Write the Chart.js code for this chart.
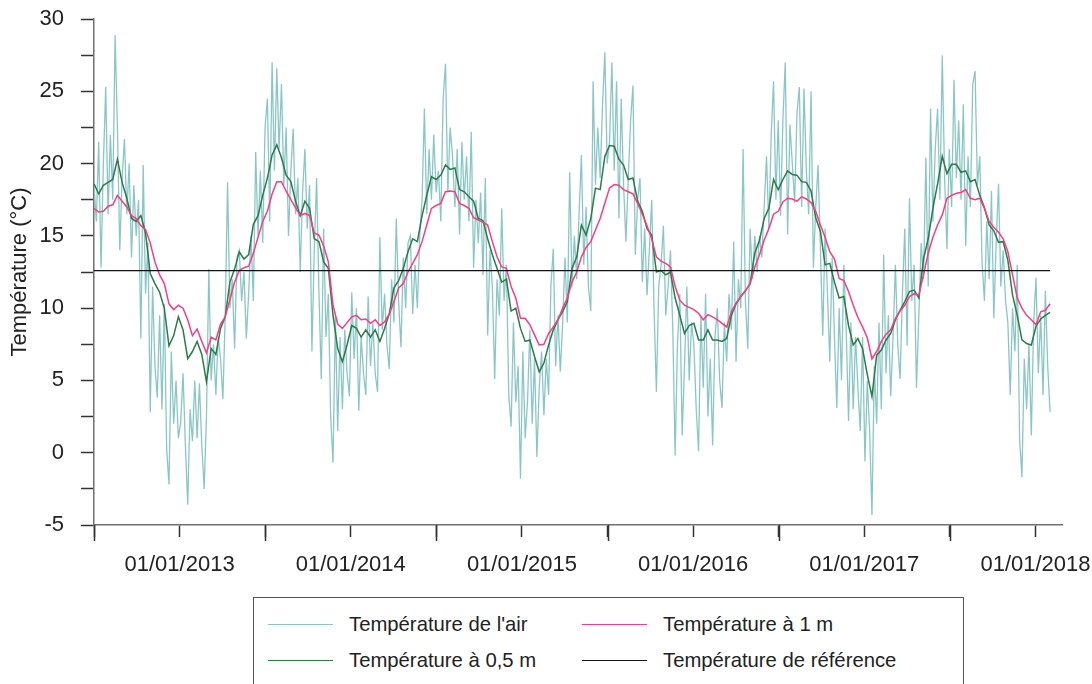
<!DOCTYPE html>
<html lang="fr">
<head>
<meta charset="utf-8">
<title>Températures</title>
<script src="https://cdn.jsdelivr.net/npm/chart.js@4.4.1/dist/chart.umd.min.js"></script>
<style>
  html, body { margin: 0; padding: 0; background: #fff; overflow: hidden; }
  #wrap { position: relative; width: 1092px; height: 684px; font-family: "Liberation Sans", Arial, sans-serif; }
  #chart { position: absolute; left: 0; top: 0; }
  #legend {
    position: absolute; left: 253px; top: 597px; width: 711px; height: 100px;
    border: 1px solid #555; box-sizing: border-box;
    display: grid; grid-template-columns: 314px 1fr; grid-auto-rows: 36px;
    padding: 8px 0 0 14px; color: #222; font-size: 20.3px;
  }
  .item { display: flex; align-items: center; white-space: nowrap; }
  .swatch { width: 65px; height: 0; border-top: 1.5px solid; margin-right: 16px; }
</style>
</head>
<body>
<div id="wrap">
  <canvas id="chart" width="1092" height="590"></canvas>
  <div id="legend"></div>
</div>
<script>
// Series start on 1 July 2012 (decimal year), air sampled every 5 days, soil every 10 days.
const START_YEAR = 2012.5;
const AIR_STEP = 5 / 365.25;
const SOIL_STEP = 10 / 365.25;
const REFERENCE_TEMP = 12.6;

const LABELS = {
  air: "Température de l'air",
  depth1: "Température à 1 m",
  depth05: "Température à 0,5 m",
  reference: "Température de référence"
};

const X_TICKS = [2012.5, 2013, 2013.5, 2014, 2014.5, 2015, 2015.5, 2016, 2016.5, 2017, 2017.5, 2018];

const airTemp = [
  // 2012-07 .. 2013-06
  18.5, 16.0, 21.5, 12.8, 20.0, 25.3, 16.5, 22.0, 17.5, 28.9,
  22.5, 14.0, 19.0, 21.7, 16.5, 20.0, 13.5, 18.5, 15.0, 17.5,
  7.9, 19.9, 11.0, 14.5, 2.8, 11.5, 6.0, 3.8, 9.5, 3.0,
  10.3, 0.3, -2.2, 7.0, 2.0, 5.0, 1.0, 2.1, 5.5, 0.5,
  -3.6, 3.0, 0.8, 5.0, 1.0, 4.8, 0.5, -2.5, 2.5, 12.7,
  5.0, 7.5, 4.0, 8.0, 6.5, 3.7, 9.5, 18.7, 10.0, 12.0,
  7.2, 13.5, 14.0, 10.5, 12.5, 7.9, 11.0, 15.0, 10.5, 20.8,
  15.0, 19.5, 14.5, 22.5,
  // 2013-07 .. 2014-06
  24.5, 16.0, 27.0, 19.5, 26.6, 21.0, 25.5, 18.5, 22.5, 15.0,
  19.5, 22.4, 16.5, 19.0, 12.5, 18.0, 21.0, 15.5, 18.5, 7.0,
  14.0, 19.0, 11.0, 5.1, 15.5, 8.0, 11.0, 2.5, -0.7, 9.5,
  1.5, 8.0, 3.0, 8.5, 5.5, 3.9, 11.1, 6.5, 10.0, 2.9,
  8.0, 5.5, 4.0, 10.8, 6.0, 9.0, 5.5, 4.2, 14.9, 8.5,
  11.0, 7.5, 5.8, 12.0, 9.0, 16.2, 10.5, 7.3, 13.5, 10.0,
  14.5, 15.0, 9.6, 13.0, 10.0, 15.0, 17.5, 23.8, 16.5, 21.0,
  17.5, 22.0, 18.0,
  // 2014-07 .. 2015-06
  19.5, 16.0, 24.5, 26.9, 18.0, 22.5, 20.5, 17.0, 21.0, 15.1,
  21.5, 17.5, 20.5, 16.0, 22.2, 12.8, 17.5, 14.5, 18.0, 12.3,
  19.0, 8.1, 14.0, 11.5, 5.1, 12.0, 9.5, 16.9, 10.5, 13.0,
  4.0, 1.8, 9.0, 3.5, 6.0, -1.8, 7.0, 1.0, 3.5, 8.5,
  2.0, 6.5, -0.3, 4.5, 7.0, 2.6, 6.5, 4.0, 11.6, 14.1,
  6.0, 9.5, 5.6, 9.0, 13.5, 9.0, 19.4, 11.5, 15.0, 12.0,
  16.5, 20.6, 13.0, 17.0, 11.5, 9.8, 25.7, 18.5, 22.5, 19.0,
  24.0, 27.7, 20.0,
  // 2015-07 .. 2016-06
  21.5, 27.0, 19.5, 25.7, 16.2, 24.5, 18.5, 14.6, 19.0, 23.0,
  25.4, 13.7, 17.5, 19.0, 11.8, 15.5, 10.9, 14.0, 17.5, 10.0,
  4.2, 11.5, 13.0, 15.7, 9.5, 11.5, 14.0, 8.5, -0.2, 7.5,
  11.0, 1.2, 6.0, 11.5, 5.0, 9.0, 7.5, 3.0, 0.1, 9.5,
  4.5, 11.0, 2.5, 6.5, 0.5, 8.0, 10.0, 5.0, 3.1, 9.0,
  6.3, 11.0, 8.5, 14.6, 6.3, 12.0, 10.0, 21.0, 10.5, 7.2,
  15.5, 12.0, 15.0, 12.5, 15.0, 13.5, 17.0, 20.5, 15.5, 22.0,
  25.7, 17.5, 23.0,
  // 2016-07 .. 2017-06
  16.4, 23.1, 27.0, 15.1, 22.7, 20.0, 17.3, 23.5, 25.3, 17.0,
  25.2, 19.5, 16.5, 25.0, 12.8, 17.0, 19.9, 14.0, 8.1, 15.5,
  11.0, 6.3, 13.5, 8.0, 3.1, 10.0, 5.0, 13.0, 8.5, 2.2,
  9.0, 3.0, 8.0, 4.5, 1.5, 8.0, -0.6, 5.0, 1.5, -4.3,
  6.0, 2.0, 9.0, 3.0, 13.7, 5.5, 9.5, 3.9, 8.0, 13.0,
  7.5, 5.1, 11.0, 15.5, 7.4, 17.6, 10.5, 13.0, 4.5, 9.5,
  14.5, 12.0, 20.4, 11.5, 23.8, 16.0, 21.0, 23.8, 17.5, 27.5,
  19.0, 14.1,
  // 2017-07 .. 2018-01
  21.0, 17.0, 25.8, 19.0, 23.0, 17.5, 24.1, 14.3, 20.5, 17.0,
  25.5, 26.4, 18.5, 20.5, 13.1, 10.5, 16.0, 12.0, 18.1, 9.3,
  14.5, 18.6, 11.5, 14.0, 10.5, 9.0, 4.0, 10.0, 7.0, 13.0,
  0.95, -1.7, 6.5, 3.0, 7.5, 1.2, 9.0, 12.1, 5.5, 9.5,
  4.0, 11.2, 6.0, 2.8
];

const temp05m = [
  18.6, 17.9, 18.5, 18.7, 18.9, 20.3, 18.7, 17.6, 16.2, 16.0,
  16.4, 15.2, 12.4, 11.7, 11.1, 10.0, 7.4, 8.1, 9.4, 8.5,
  6.5, 7.0, 7.7, 6.8, 4.9, 7.2, 6.8, 8.6, 9.4, 11.8,
  12.7, 13.9, 13.4, 13.7, 15.8, 16.4, 17.8,
  19.0, 20.6, 21.3, 20.4, 19.2, 18.75, 17.4, 16.4, 17.4, 16.9,
  14.8, 14.6, 13.2, 12.75, 9.5, 7.2, 6.3, 7.45, 8.8, 8.6,
  8.0, 8.5, 8.0, 8.5, 7.7, 8.6, 9.6, 11.4, 11.9, 12.75,
  13.9, 14.8, 14.6, 16.4, 17.8, 19.1, 18.9,
  19.2, 19.9, 19.6, 19.7, 18.2, 18.05, 17.7, 17.4, 16.2, 16.05,
  14.8, 13.7, 12.75, 11.8, 12.0, 9.8, 10.0, 8.6, 7.7, 7.8,
  6.65, 5.6, 6.2, 7.45, 8.5, 9.2, 9.75, 10.45, 12.75, 13.55,
  15.75, 15.05, 16.2, 18.3, 18.2, 20.5,
  21.25, 21.2, 20.3, 19.9, 18.9, 19.0, 17.4, 16.7, 15.5, 15.05,
  12.5, 12.6, 12.3, 12.5, 10.7, 9.5, 8.25, 8.8, 8.95, 7.8,
  7.8, 8.5, 7.8, 7.8, 7.7, 7.9, 9.5, 10.3, 10.8, 11.2,
  11.7, 13.8, 14.7, 16.2, 16.9, 18.9,
  18.2, 18.9, 19.5, 19.25, 19.2, 18.75, 18.7, 18.1, 16.25, 15.3,
  13.0, 13.1, 11.8, 10.7, 10.8, 8.8, 7.45, 7.9, 7.2, 5.4,
  3.9, 6.75, 7.1, 7.8, 8.25, 9.2, 9.85, 10.45, 11.15, 11.25,
  10.7, 13.4, 14.8, 16.9, 18.6, 20.5,
  19.3, 19.95, 19.95, 19.4, 19.5, 18.75, 18.9, 17.8, 16.95, 15.75,
  15.35, 14.55, 14.6, 13.3, 10.9, 9.5, 7.8, 7.55, 7.45, 8.75,
  9.25, 9.5, 9.7
];

const temp1m = [
  16.9, 16.65, 16.7, 17.05, 17.15, 17.8, 17.4, 17.0, 16.4, 16.2,
  15.7, 15.45, 14.5, 13.2, 12.3, 11.7, 10.3, 9.9, 10.2, 10.0,
  9.2, 8.1, 8.55, 7.7, 6.9, 8.0, 7.8, 8.9, 9.4, 10.6,
  11.8, 12.6, 12.8, 12.9, 13.8, 14.9, 16.0,
  16.7, 17.9, 18.75, 18.75, 18.1, 17.5, 16.95, 16.4, 16.55, 16.4,
  15.2, 15.05, 14.3, 13.2, 10.2, 8.9, 8.6, 9.0, 9.4, 9.5,
  9.2, 9.25, 8.95, 9.2, 8.8, 9.05, 9.6, 10.45, 11.4, 11.7,
  12.5, 13.1, 13.7, 14.6, 15.75, 16.9, 17.1,
  17.25, 18.05, 18.1, 18.05, 17.25, 17.1, 16.9, 16.25, 16.1, 15.95,
  15.75, 14.6, 13.55, 12.85, 12.75, 11.5, 10.7, 9.3, 9.3, 8.85,
  8.15, 7.45, 7.5, 8.25, 8.7, 9.2, 10.0, 10.7, 11.8, 12.5,
  13.55, 14.2, 14.6, 15.4, 16.2, 17.25,
  18.3, 18.55, 18.5, 18.2, 18.05, 17.9, 17.25, 16.5, 15.7, 14.8,
  13.55, 13.25, 13.1, 12.85, 11.5, 10.55, 10.2, 10.05, 9.9, 9.65,
  9.2, 9.55, 9.4, 9.2, 8.95, 8.7, 9.75, 10.35, 10.8, 11.2,
  11.7, 12.85, 13.7, 14.7, 15.5, 16.5,
  16.7, 17.35, 17.6, 17.55, 17.4, 17.7, 17.55, 17.3, 16.7, 15.75,
  14.9, 13.9, 13.4, 12.05, 11.9, 11.15, 10.2, 9.35, 8.7, 7.95,
  6.5, 7.0, 7.7, 8.2, 8.5, 9.3, 9.8, 10.2, 10.8, 11.0,
  10.9, 12.3, 13.8, 14.9, 15.75, 16.45,
  17.6, 17.8, 17.95, 18.0, 18.2, 17.6, 17.5, 17.6, 16.9, 16.0,
  15.6, 15.25, 14.8, 13.9, 12.3, 10.7, 10.0, 9.5, 9.2, 8.85,
  9.75, 9.85, 10.3
];

const COLORS = {
  air: '#8bc6c6',
  depth05: '#2b7a48',
  depth1: '#f53d88',
  reference: '#111111'
};

const toPoints = (values, step) => values.map((v, i) => ({ x: START_YEAR + i * step, y: v }));
const lastX = START_YEAR + (temp1m.length - 1) * SOIL_STEP;

// Longer marks for the mid-year ticks, drawn on the x scale
const midYearTicks = {
  id: 'midYearTicks',
  afterDraw(chart) {
    const { ctx, chartArea, scales: { x } } = chart;
    ctx.save();
    ctx.strokeStyle = '#333';
    ctx.lineWidth = 1.5;
    X_TICKS.filter(v => !Number.isInteger(v)).forEach(v => {
      const px = Math.round(x.getPixelForValue(v)) + 0.5;
      ctx.beginPath();
      ctx.moveTo(px, chartArea.bottom);
      ctx.lineTo(px, chartArea.bottom + 16);
      ctx.stroke();
    });
    ctx.restore();
  }
};

Chart.defaults.font.family = "'Liberation Sans', Arial, sans-serif";
Chart.defaults.color = '#222';

const chart = new Chart(document.getElementById('chart'), {
  type: 'line',
  data: {
    datasets: [
      { label: LABELS.air, data: toPoints(airTemp, AIR_STEP), borderColor: COLORS.air, borderWidth: 1.3, order: 4 },
      { label: LABELS.depth1, data: toPoints(temp1m, SOIL_STEP), borderColor: COLORS.depth1, borderWidth: 1.5, order: 2 },
      { label: LABELS.depth05, data: toPoints(temp05m, SOIL_STEP), borderColor: COLORS.depth05, borderWidth: 1.5, order: 3 },
      { label: LABELS.reference, data: [{ x: START_YEAR, y: REFERENCE_TEMP }, { x: lastX, y: REFERENCE_TEMP }], borderColor: COLORS.reference, borderWidth: 1.3, order: 1 }
    ]
  },
  options: {
    responsive: false,
    animation: false,
    events: [],
    layout: { padding: { top: 19, right: 30, left: 0, bottom: 0 } },
    elements: { point: { radius: 0 }, line: { tension: 0, fill: false } },
    plugins: { legend: { display: false }, tooltip: { enabled: false } },
    scales: {
      x: {
        type: 'linear',
        min: 2012.5,
        max: 2018.155,
        afterFit: s => { s.height = 65; s.paddingLeft = 0; s.paddingRight = 0; },
        afterBuildTicks: axis => { axis.ticks = X_TICKS.map(v => ({ value: v })); },
        border: { display: true, color: '#707070', width: 1.5 },
        grid: { drawOnChartArea: false, drawTicks: true, tickLength: 12, tickColor: '#333', tickWidth: 1.5 },
        ticks: {
          autoSkip: false, maxRotation: 0, padding: 15,
          font: { size: 22 }, color: '#222',
          callback: v => Number.isInteger(v) ? '01/01/' + v : ''
        }
      },
      y: {
        min: -5,
        max: 30,
        afterFit: s => { s.width = 94; s.paddingTop = 0; s.paddingBottom = 0; },
        border: { display: true, color: '#707070', width: 1.5 },
        grid: { drawOnChartArea: false, drawTicks: true, tickLength: 13, tickColor: '#333', tickWidth: 1.5 },
        ticks: {
          stepSize: 2.5, padding: 17, autoSkip: false,
          font: { size: 22 }, color: '#222',
          callback: v => (v % 5 === 0 ? String(v) : '')
        },
        title: { display: true, text: 'Température (°C)', font: { size: 22 }, color: '#222', padding: { top: 7, bottom: 0 } }
      }
    }
  },
  plugins: [midYearTicks]
});

// Two-column boxed legend, rows: air / 1 m, then 0,5 m / reference
const legend = document.getElementById('legend');
chart.data.datasets.forEach(ds => {
  const item = document.createElement('div');
  item.className = 'item';
  const sw = document.createElement('span');
  sw.className = 'swatch';
  sw.style.borderTopColor = ds.borderColor;
  const txt = document.createElement('span');
  txt.textContent = ds.label;
  item.append(sw, txt);
  legend.appendChild(item);
});
</script>
</body>
</html>
